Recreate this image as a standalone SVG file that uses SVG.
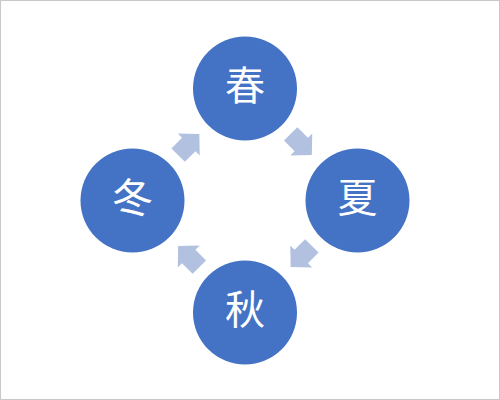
<svg xmlns="http://www.w3.org/2000/svg" width="500" height="400" viewBox="0 0 500 400">
  <style>
    .node { fill: #4472C4; }
    .label { fill: #FFFFFF; font-family: 'Liberation Serif', 'Noto Sans CJK JP', serif; font-size: 40px; text-anchor: middle; dominant-baseline: central; }
    .arrow { fill: #B3C1E1; }
  </style>
  <defs>
    <path id="arr" d="M -15 -9.5 L 0 -9.5 L 0 -15.5 L 15 0 L 0 15.5 L 0 9.5 L -15 9.5 Z"/>
  </defs>
  <rect x="0.5" y="0.5" width="499" height="399" fill="#FFFFFF" stroke="#C8C8C8" stroke-width="1"/>
  <g id="connectors">
    <use href="#arr" class="arrow" transform="translate(301.25,144.5) rotate(45)"/>
    <use href="#arr" class="arrow" transform="translate(301.25,256.5) rotate(135)"/>
    <use href="#arr" class="arrow" transform="translate(188.75,256.5) rotate(225)"/>
    <use href="#arr" class="arrow" transform="translate(188.75,144.5) rotate(-45)"/>
  </g>
  <g id="spring">
    <circle class="node" cx="245" cy="88.5" r="52"/>
    <text class="label" x="245" y="86">春</text>
  </g>
  <g id="summer">
    <circle class="node" cx="357.5" cy="200.5" r="52"/>
    <text class="label" x="357.5" y="198">夏</text>
  </g>
  <g id="autumn">
    <circle class="node" cx="245" cy="312.5" r="52"/>
    <text class="label" x="245" y="310">秋</text>
  </g>
  <g id="winter">
    <circle class="node" cx="132.5" cy="200.5" r="52"/>
    <text class="label" x="132.5" y="198">冬</text>
  </g>
</svg>
